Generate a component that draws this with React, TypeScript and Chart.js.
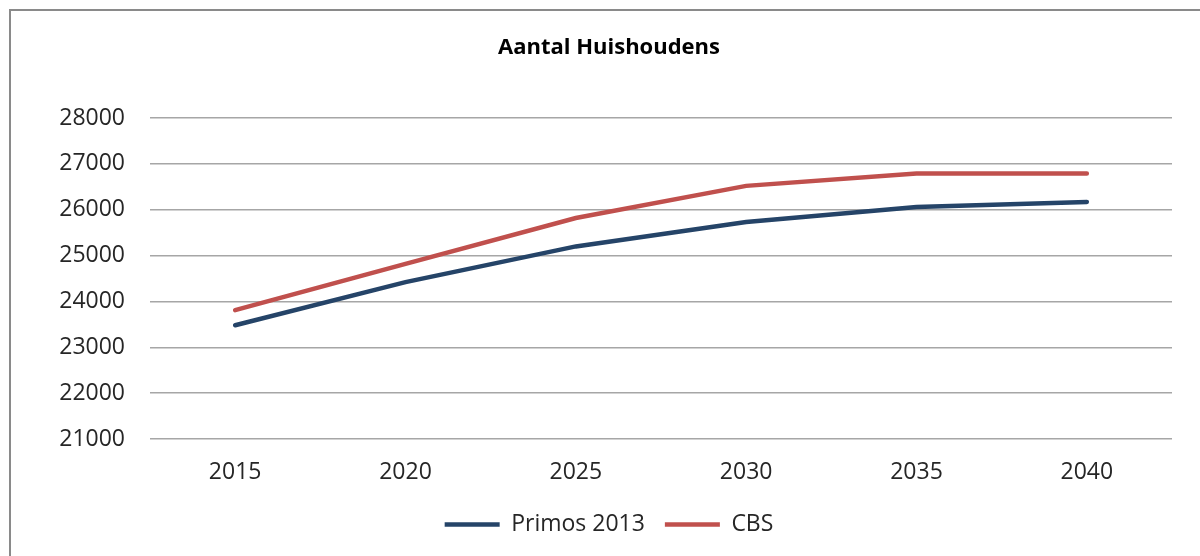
import React, { useEffect, useRef } from "react";
import { Chart, registerables } from "chart.js";

Chart.register(...registerables);

// Households forecast per five-year step
const years = ["2015", "2020", "2025", "2030", "2035", "2040"];
const primos2013 = [23480, 24420, 25200, 25730, 26060, 26170];
const cbs = [23810, 24820, 25820, 26520, 26790, 26790];
const yMin = 21000;
const yMax = 28000;
const yStep = 1000;

const FONT = '"Open Sans", "Noto Sans", sans-serif';

export default function App() {
  const canvasRef = useRef<HTMLCanvasElement | null>(null);

  useEffect(() => {
    const canvas = canvasRef.current;
    if (!canvas) return;
    const chart = new Chart(canvas, {
      type: "line",
      data: {
        labels: years,
        datasets: [
          {
            label: "Primos 2013",
            data: primos2013,
            borderColor: "#254468",
            backgroundColor: "#254468",
            borderWidth: 4.5,
            pointRadius: 0,
            tension: 0,
            borderCapStyle: "round",
          },
          {
            label: "CBS",
            data: cbs,
            borderColor: "#C0504D",
            backgroundColor: "#C0504D",
            borderWidth: 4.5,
            pointRadius: 0,
            tension: 0,
            borderCapStyle: "round",
          },
        ],
      },
      options: {
        responsive: false,
        animation: false,
        layout: { padding: { left: 46, right: 28, top: 0, bottom: 10 } },
        plugins: {
          title: {
            display: true,
            text: "Aantal Huishoudens",
            color: "#000",
            font: { family: FONT, size: 22, weight: "bold", lineHeight: 1.2 },
            padding: { top: 35, bottom: 56.6 },
          },
          legend: {
            position: "bottom",
            labels: {
              usePointStyle: true,
              pointStyle: "line",
              pointStyleWidth: 55,
              padding: 20,
              color: "#262626",
              font: { family: FONT, size: 23 },
            },
          },
          tooltip: { enabled: false },
        },
        scales: {
          x: {
            offset: true,
            grid: { display: false, drawTicks: false, offset: true },
            border: { display: false },
            ticks: {
              color: "#262626",
              padding: 20,
              font: { family: FONT, size: 23 },
            },
            afterFit: (scale: any) => {
              scale.height = 54;
            },
          },
          y: {
            min: yMin,
            max: yMax,
            grid: { color: "#a6a6a6", lineWidth: 1.5, drawTicks: false },
            border: { display: false },
            ticks: {
              stepSize: yStep,
              color: "#262626",
              padding: 25,
              font: { family: FONT, size: 23 },
              callback: (v: any) => String(v),
            },
            afterFit: (scale: any) => {
              scale.width = 104;
            },
          },
        },
      },
    });
    return () => chart.destroy();
  }, []);

  return (
    <div
      style={{
        position: "fixed",
        left: 0,
        top: 0,
        width: 1200,
        height: 556,
        background: "#fff",
        overflow: "hidden",
      }}
    >
      <div
        style={{
          position: "absolute",
          left: 9,
          top: 9,
          width: 1220,
          height: 600,
          border: "2px solid #8a8a8a",
          boxSizing: "border-box",
        }}
      />
      <canvas
        ref={canvasRef}
        width={1200}
        height={556}
        style={{ position: "absolute", left: 0, top: 0 }}
      />
    </div>
  );
}
